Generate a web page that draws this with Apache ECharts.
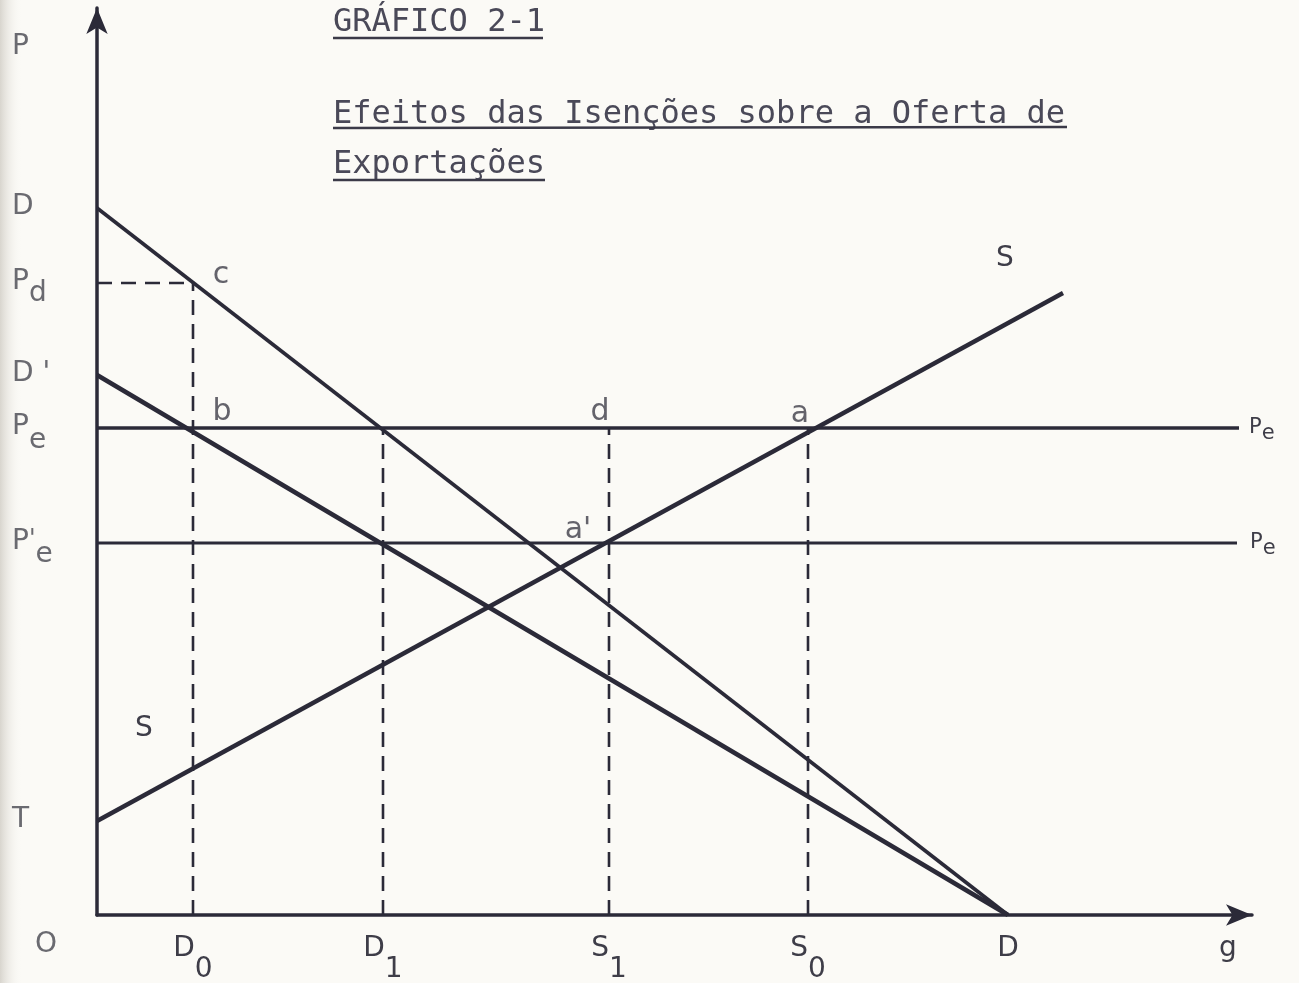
<!DOCTYPE html>
<html>
<head>
<meta charset="utf-8">
<script src="https://cdn.jsdelivr.net/npm/echarts@6/dist/echarts.min.js"></script>
<style>
  html, body { margin: 0; padding: 0; background: #fbfaf6; }
  #chart { width: 1299px; height: 983px; }
</style>
</head>
<body>
<div id="chart"></div>
<script>
// Quantities on the horizontal axis (g)
const quantityTicks = [9.6, 28.6, 51.2, 71.1, 91.1];
const quantityNames = ['D', 'D', 'S', 'S', 'D'];
const quantitySubs  = ['0', '1', '1', '0', ''];

// Prices on the vertical axis (p)
const priceTicks  = [0, 9.4, 37.2, 48.7, 54.0, 63.2, 70.7];
const priceNames  = ['O', 'T', 'P', 'P', "D '", 'P', 'D'];
const pricePrimes = ['', '', "'", '', '', '', ''];
const priceSubs   = ['', '', 'e', 'e', '', 'd', ''];

// Axis names, written in the label rows next to the arrow heads
const quantityAxisName = { at: 113.1, text: 'g' };
const priceAxisName    = { at: 86.7,  text: 'P' };

// Demand, supply and export price lines
const demandD        = [[0, 70.7], [91.1, 0]];
const demandDPrime   = [[0, 54.0], [91.1, 0]];
const supplyS        = [[0, 9.4], [96.6, 62.2]];
const priceExport    = [[0, 48.7], [114.2, 48.7]];
const priceExportNet = [[0, 37.2], [114.0, 37.2]];

// Dashed guides
const guideD0 = [[9.6, 0], [9.6, 63.2]];
const guidePd = [[0, 63.2], [9.6, 63.2]];
const guideD1 = [[28.6, 0], [28.6, 48.7]];
const guideS1 = [[51.2, 0], [51.2, 48.7]];
const guideS0 = [[71.1, 0], [71.1, 48.7]];

// Named points
const pointNames = ['c', 'b', 'd', 'a', "a'"];
const pointX     = [9.6, 9.6, 51.2, 71.1, 51.2];
const pointY     = [63.2, 48.7, 48.7, 48.7, 37.2];

const INK = '#2b2a38';
const LABEL_INK = '#3e3d48';
const FADED_INK = '#6a6a70';
const SANS = '"DejaVu Sans", "Liberation Sans", sans-serif';
const MONO = '"DejaVu Sans Mono", "Liberation Mono", monospace';

const pointLabelOffset = {
  'c': [28, -8], 'b': [29, -16], 'd': [-9, -16], 'a': [-8, -14], "a'": [-31, -13]
};

const axisRich = {
  b:  { fontFamily: SANS, fontSize: 28, lineHeight: 30, verticalAlign: 'top', color: LABEL_INK },
  f:  { fontFamily: SANS, fontSize: 28, lineHeight: 30, verticalAlign: 'top', color: FADED_INK },
  pr: { fontFamily: SANS, fontSize: 24, lineHeight: 30, verticalAlign: 'top', color: FADED_INK },
  sd: { fontFamily: SANS, fontSize: 28, lineHeight: 30, padding: [21, 0, 0, 0], color: FADED_INK },
  se: { fontFamily: SANS, fontSize: 28, lineHeight: 30, padding: [26, 0, 0, 0], color: FADED_INK },
  sp: { fontFamily: SANS, fontSize: 28, lineHeight: 30, padding: [24, 0, 0, 0], color: FADED_INK },
  xs: { fontFamily: SANS, fontSize: 28, lineHeight: 30, padding: [40, 0, 0, 0], color: LABEL_INK },
  o:  { fontFamily: SANS, fontSize: 28, lineHeight: 30, padding: [60, 0, 0, 23], color: FADED_INK }
};

function lineSeries(data, width, extra) {
  return Object.assign({
    type: 'line',
    data: data,
    symbol: 'none',
    silent: true,
    animation: false,
    lineStyle: { color: INK, width: width, cap: 'butt' },
    z: 3
  }, extra || {});
}

function dashed(data) {
  return lineSeries(data, 2.6, {
    lineStyle: { color: INK, width: 2.6, type: [15, 9] },
    z: 2
  });
}

const peRich = {
  p: { fontFamily: SANS, fontSize: 21, lineHeight: 22, verticalAlign: 'top', color: LABEL_INK },
  e: { fontFamily: SANS, fontSize: 21, lineHeight: 22, padding: [12, 0, 0, 0], color: LABEL_INK }
};

const chart = echarts.init(document.getElementById('chart'), null, { renderer: 'canvas' });

const pointData = pointNames.map((n, i) => ({
  value: [pointX[i], pointY[i]],
  label: { offset: pointLabelOffset[n] }
}));

const option = {
  backgroundColor: '#fbfaf6',
  animation: false,
  grid: { left: 97, top: 8, width: 1155, height: 907, containLabel: false, outerBoundsMode: 'none' },
  xAxis: {
    type: 'value',
    min: 0,
    max: 115.5,
    axisLine: {
      show: true,
      symbol: ['none', 'arrow'],
      symbolSize: [16, 26],
      lineStyle: { color: INK, width: 3.5 }
    },
    axisTick: { show: false },
    splitLine: { show: false },
    axisLabel: {
      customValues: quantityTicks.concat([quantityAxisName.at]),
      margin: 20,
      formatter: function (v) {
        if (v === quantityAxisName.at) return '{b|' + quantityAxisName.text + '}';
        const i = quantityTicks.indexOf(v);
        if (i < 0) return '';
        return '{b|' + quantityNames[i] + '}' + (quantitySubs[i] ? '{xs|' + quantitySubs[i] + '}' : '');
      },
      rich: axisRich
    }
  },
  yAxis: {
    type: 'value',
    min: 0,
    max: 90.7,
    axisLine: {
      show: true,
      symbol: ['none', 'arrow'],
      symbolSize: [16, 26],
      lineStyle: { color: INK, width: 3.5 }
    },
    axisTick: { show: false },
    splitLine: { show: false },
    axisLabel: {
      customValues: priceTicks.concat([priceAxisName.at]),
      align: 'left',
      margin: 85,
      formatter: function (v) {
        if (v === priceAxisName.at) return '{f|' + priceAxisName.text + '}';
        const i = priceTicks.indexOf(v);
        if (i < 0) return '';
        if (priceNames[i] === 'O') return '{o|O}';
        let s = '{f|' + priceNames[i] + '}';
        if (pricePrimes[i]) s += '{pr|' + pricePrimes[i] + '}';
        if (priceSubs[i]) s += '{' + (pricePrimes[i] ? 'sp' : (priceSubs[i] === 'd' ? 'sd' : 'se')) + '|' + priceSubs[i] + '}';
        return s;
      },
      rich: axisRich
    }
  },
  series: [
    dashed(guideD0),
    dashed(guidePd),
    dashed(guideD1),
    dashed(guideS1),
    dashed(guideS0),
    lineSeries(demandD, 3.6),
    lineSeries(demandDPrime, 4.6),
    lineSeries(supplyS.map((p, i) => ({
      value: p,
      label: {
        show: true,
        formatter: 'S',
        fontFamily: SANS, fontSize: 28, color: LABEL_INK,
        offset: i === 0 ? [47, -73] : [-58, -15]
      }
    })), 4.4, { showSymbol: true, symbol: 'circle', symbolSize: 0.01, label: { show: false } }),
    lineSeries(priceExport, 3.6, {
      endLabel: { show: true, formatter: '{p|P}{e|e}', distance: 10, rich: peRich }
    }),
    lineSeries(priceExportNet, 3, {
      endLabel: { show: true, formatter: '{p|P}{e|e}', distance: 13, rich: peRich }
    }),
    {
      type: 'scatter',
      data: pointData,
      symbolSize: 0.01,
      silent: true,
      z: 5,
      label: {
        show: true,
        position: 'inside',
        formatter: p => pointNames[p.dataIndex],
        fontFamily: SANS, fontSize: 30, color: LABEL_INK
      }
    }
  ],
  graphic: [
    {
      type: 'rect',
      x: 0, y: 0, z: -10, silent: true,
      shape: { width: 22, height: 983 },
      style: {
        fill: new echarts.graphic.LinearGradient(0, 0, 1, 0, [
          { offset: 0, color: '#d8d5ce' },
          { offset: 1, color: 'rgba(251,250,246,0)' }
        ])
      }
    },
    {
      type: 'group', x: 333, y: 0, silent: true,
      children: [
        { type: 'text', x: 0, y: 23, style: { text: 'GRÁFICO 2-1', font: '32px ' + MONO, fill: '#4a4958', verticalAlign: 'middle' } },
        { type: 'line', shape: { x1: 0, y1: 38, x2: 210, y2: 38 }, style: { stroke: '#3b3a48', lineWidth: 2.5 } },
        { type: 'text', x: 0, y: 115, style: { text: 'Efeitos das Isenções sobre a Oferta de', font: '32px ' + MONO, fill: '#4a4958', verticalAlign: 'middle' } },
        { type: 'line', shape: { x1: 0, y1: 128, x2: 734, y2: 127 }, style: { stroke: '#3b3a48', lineWidth: 2.5 } },
        { type: 'text', x: 0, y: 165, style: { text: 'Exportações', font: '32px ' + MONO, fill: '#4a4958', verticalAlign: 'middle' } },
        { type: 'line', shape: { x1: 0, y1: 180, x2: 212, y2: 180 }, style: { stroke: '#3b3a48', lineWidth: 2.5 } }
      ]
    }
  ]
};

chart.setOption(option);
</script>
</body>
</html>
